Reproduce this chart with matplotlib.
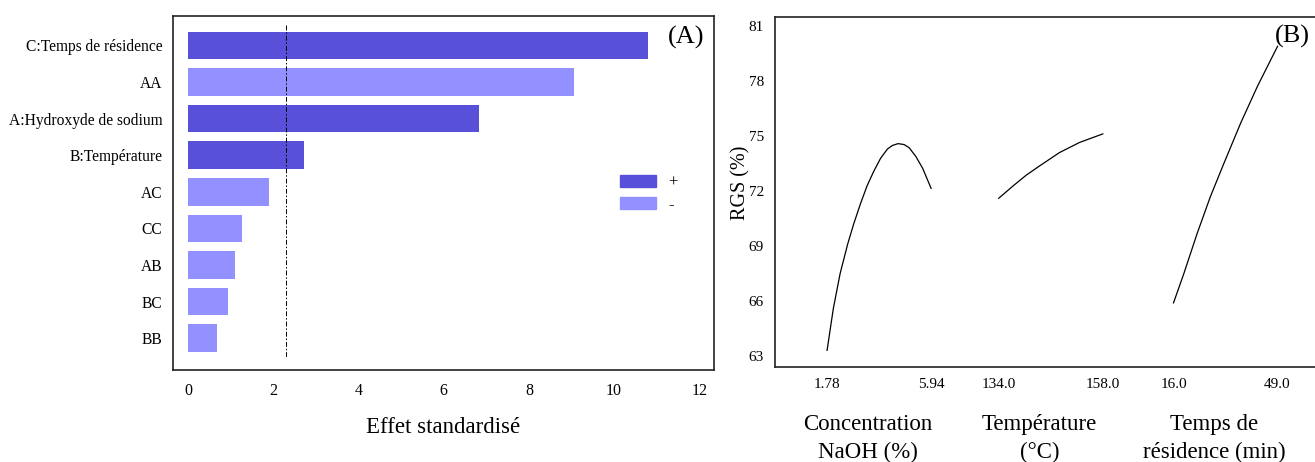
import numpy as np
import matplotlib
matplotlib.use('Agg')
import matplotlib.pyplot as plt
from matplotlib.patches import Patch

plt.rcParams['font.family'] = ['Liberation Serif', 'DejaVu Serif']

# (A) Pareto chart of standardized effects
terms = ['C:Temps de résidence', 'AA', 'A:Hydroxyde de sodium', 'B:Température',
         'AC', 'CC', 'AB', 'BC', 'BB']
effects = [10.8, 9.05, 6.82, 2.71, 1.89, 1.26, 1.10, 0.94, 0.68]
signs = ['+', '-', '+', '+', '-', '-', '-', '-', '-']
t_crit = 2.306

# (B) main effects plot
naoh_x = [1.78, 2.03, 2.30, 2.60, 2.84, 3.11, 3.38, 3.65, 3.92, 4.19, 4.39, 4.62,
          4.86, 5.06, 5.33, 5.60, 5.94]
naoh_y = [63.32, 65.6, 67.5, 69.1, 70.2, 71.3, 72.3, 73.1, 73.8, 74.3, 74.5, 74.6,
          74.55, 74.38, 73.9, 73.26, 72.16]
temp_x = [134.0, 137.3, 140.4, 143.4, 148.0, 152.6, 158.0]
temp_y = [71.62, 72.29, 72.89, 73.38, 74.11, 74.66, 75.13]
time_x = [16.0, 19.3, 23.5, 27.7, 32.0, 37.3, 42.6, 49.0]
time_y = [65.91, 67.52, 69.70, 71.71, 73.53, 75.72, 77.72, 79.91]
factor_labels = ['Concentration\nNaOH (%)', 'Température\n(°C)', 'Temps de\nrésidence (min)']
factor_ticks = [('1.78', '5.94'), ('134.0', '158.0'), ('16.0', '49.0')]
rgs_ticks = [63, 66, 69, 72, 75, 78, 81]

dark = '#5850D8'
light = '#9391FF'
colors = {'+': dark, '-': light}

fig = plt.figure(figsize=(13.15, 4.62), dpi=100)

# ---- panel A
axA = fig.add_axes([0.1318, 0.1991, 0.411, 0.766])
ypos = np.arange(len(terms))
axA.barh(ypos, effects, height=0.75, color=[colors[s] for s in signs])
axA.vlines(t_crit, -0.56, 8.54, colors='black', linewidth=0.7)
axA.collections[-1].set_dashes([(0, (5, 2, 1.5, 2))])
axA.set_xlim(-0.35, 12.34)
axA.set_ylim(8.87, -0.8)
axA.set_yticks(ypos)
axA.set_yticklabels(terms, fontsize=11.2)
axA.set_xticks(range(0, 13, 2))
axA.tick_params(axis='x', length=0, pad=9, labelsize=11.5)
axA.tick_params(axis='y', length=0, pad=8)
axA.set_xlabel('Effet standardisé', fontsize=16.5, labelpad=13)
for sp in axA.spines.values():
    sp.set_linewidth(1.2)
    sp.set_color('#222222')
axA.text(0.949, 0.941, '(A)', transform=axA.transAxes, fontsize=19,
         ha='center', va='center')
handles = [Patch(color=dark), Patch(color=light)]
axA.legend(handles, ['+', '-'], loc='upper left', bbox_to_anchor=(0.826, 0.5525),
           frameon=False, fontsize=12, borderpad=0, borderaxespad=0,
           handlelength=2.2, handleheight=0.72, handletextpad=0.7, labelspacing=0.4)

# ---- panel B
axB = fig.add_axes([0.5894, 0.2056, 0.4106, 0.7576])
seg_start = [0.0, 1.65, 3.33]
ranges = [(1.78, 5.94), (134.0, 158.0), (16.0, 49.0)]
curves = [(naoh_x, naoh_y), (temp_x, temp_y), (time_x, time_y)]
tick_pos = []
tick_lab = []
for i in range(3):
    lo, hi = ranges[i]
    xs = seg_start[i] + (np.array(curves[i][0]) - lo) / (hi - lo)
    axB.plot(xs, curves[i][1], color='black', linewidth=0.9, solid_joinstyle='round')
    tick_pos += [seg_start[i], seg_start[i] + 1]
    tick_lab += list(factor_ticks[i])
    axB.text(seg_start[i] + 0.39, -0.203, factor_labels[i], transform=axB.get_xaxis_transform(),
             ha='center', va='center', fontsize=16.5, linespacing=1.42)
axB.set_xticks(tick_pos)
axB.set_xticklabels(tick_lab)
axB.set_yticks(rgs_ticks)
axB.set_xlim(-0.5, 4.69)
axB.set_ylim(62.41, 81.51)
axB.tick_params(axis='both', length=0, pad=8, labelsize=11)
for sp in axB.spines.values():
    sp.set_linewidth(1.2)
    sp.set_color('#222222')
axB.spines['right'].set_visible(False)
axB.text(-0.063, 0.526, 'RGS (%)', transform=axB.transAxes, rotation=90,
         ha='center', va='center', fontsize=14.5)
axB.text(0.959, 0.943, '(B)', transform=axB.transAxes, fontsize=19,
         ha='center', va='center')

fig.savefig('out.png', dpi=100)
